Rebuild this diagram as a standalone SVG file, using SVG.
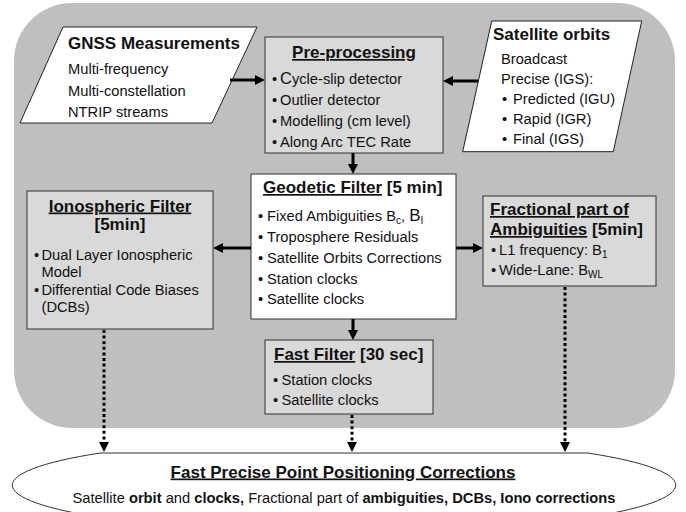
<svg xmlns="http://www.w3.org/2000/svg" width="686" height="512" viewBox="0 0 686 512">
<style>
text{font-family:"Liberation Sans",Arial,sans-serif;fill:#111}
.t{font-size:17px;font-weight:bold}
.b{font-size:14.7px}
.u{text-decoration:underline}
.box{fill:#d9d9d9;stroke:#333;stroke-width:1}
.wbox{fill:#fff;stroke:#333;stroke-width:1}
.ar{stroke:#000;stroke-width:3;fill:none;marker-end:url(#ah)}
.dt{stroke:#000;stroke-width:3;fill:none;stroke-dasharray:3 2.6;marker-end:url(#ah)}
</style>
<defs>
<marker id="ah" markerUnits="userSpaceOnUse" markerWidth="11" markerHeight="11" refX="1" refY="5" orient="auto">
<path d="M0,0 L10,5 L0,10 z" fill="#000"/>
</marker>
</defs>
<rect x="14" y="3" width="661" height="425" rx="58" fill="#bfbfbf"/>

<g id="gnss">
<polygon points="63,27 257,27 212,123 20,123" fill="#fff" stroke="#222" stroke-width="1"/>
<text class="t" x="68" y="49">GNSS Measurements</text>
<text class="b" x="68" y="74">Multi-frequency</text>
<text class="b" x="68" y="95.5">Multi-constellation</text>
<text class="b" x="68" y="117">NTRIP streams</text>
</g>

<g id="preprocessing">
<rect class="box" x="265" y="37" width="178" height="116"/>
<text class="t u" x="354" y="58" text-anchor="middle">Pre-processing</text>
<text class="b" x="272" y="84">•<tspan x="280" font-size="16.5">C</tspan>ycle-slip detector</text>
<text class="b" x="272" y="105">•<tspan x="280">Outlier detector</tspan></text>
<text class="b" x="272" y="126">•<tspan x="280">Modelling (cm level)</tspan></text>
<text class="b" x="272" y="147">•<tspan x="280">Along Arc TEC Rate</tspan></text>
</g>

<g id="orbits">
<polygon points="491.7,21 641.7,21 613.3,151.7 462.7,151.7" fill="#fff" stroke="#222" stroke-width="1"/>
<text class="t" x="493" y="40">Satellite orbits</text>
<text class="b" x="501" y="63.5">Broadcast</text>
<text class="b" x="501" y="83.5">Precise (IGS):</text>
<text class="b" x="502" y="103.5">•<tspan x="513">Predicted (IGU)</tspan></text>
<text class="b" x="502" y="123.5">•<tspan x="513">Rapid (IGR)</tspan></text>
<text class="b" x="502" y="144">•<tspan x="513">Final (IGS)</tspan></text>
</g>

<g id="geodetic">
<rect class="wbox" x="251" y="174" width="205" height="145"/>
<text class="t" x="263" y="193"><tspan class="u">Geodetic Filter</tspan> [5 min]</text>
<text class="b" x="258" y="221">•<tspan x="267">Fixed Ambiguities B</tspan><tspan font-size="10" dy="3">c</tspan><tspan dy="-3">, </tspan><tspan font-size="17">B</tspan><tspan font-size="10" dy="3">I</tspan></text>
<text class="b" x="258" y="242">•<tspan x="267">Troposphere Residuals</tspan></text>
<text class="b" x="258" y="263">•<tspan x="267">Satellite Orbits Corrections</tspan></text>
<text class="b" x="258" y="283.5">•<tspan x="267">Station clocks</tspan></text>
<text class="b" x="258" y="304">•<tspan x="267">Satellite clocks</tspan></text>
</g>

<g id="ionospheric">
<rect class="box" x="27" y="191" width="186" height="138"/>
<text class="t u" x="120" y="211.5" text-anchor="middle">Ionospheric Filter</text>
<text class="t" x="120" y="229.5" text-anchor="middle">[5min]</text>
<text class="b" x="34" y="260">•<tspan x="41.5">Dual Layer Ionospheric</tspan></text>
<text class="b" x="41.5" y="277">Model</text>
<text class="b" x="34" y="295">•<tspan x="41.5">Differential Code Biases</tspan></text>
<text class="b" x="41.5" y="312">(DCBs)</text>
</g>

<g id="fractional">
<rect class="box" x="483" y="196" width="173" height="90"/>
<text class="t u" x="490" y="215">Fractional part of</text>
<text class="t" x="490" y="235"><tspan class="u">Ambiguities</tspan> [5min]</text>
<text class="b" x="491" y="255">•<tspan x="499">L1 frequency: B</tspan><tspan font-size="10" dy="3">1</tspan></text>
<text class="b" x="491" y="275">•<tspan x="499">Wide-Lane: B</tspan><tspan font-size="10" dy="3">WL</tspan></text>
</g>

<g id="fast">
<rect class="box" x="265" y="340" width="168" height="74"/>
<text class="t" x="274" y="360"><tspan class="u">Fast Filter</tspan> [30 sec]</text>
<text class="b" x="273" y="384.5">•<tspan x="281.5">Station clocks</tspan></text>
<text class="b" x="273" y="405">•<tspan x="281.5">Satellite clocks</tspan></text>
</g>

<g id="connectors">
<line class="ar" x1="230" y1="80" x2="256" y2="80"/>
<line class="ar" x1="478" y1="81" x2="452" y2="81"/>
<line class="ar" x1="353" y1="153" x2="353" y2="165"/>
<line class="ar" x1="251" y1="248" x2="222" y2="248"/>
<line class="ar" x1="456" y1="248" x2="474" y2="248"/>
<line class="ar" x1="353" y1="319" x2="353" y2="331"/>
<line class="dt" x1="104" y1="330" x2="104" y2="443"/>
<line class="dt" x1="352" y1="415" x2="352" y2="443"/>
<line class="dt" x1="565" y1="287" x2="565" y2="443"/>
</g>

<g id="ppp">
<path d="M100.1,453 L587.9,453 A331.8 47.5 0 0 1 569.7,520 L118.3,520 A331.8 47.5 0 0 1 100.1,453 Z" fill="#fff" stroke="#333" stroke-width="1"/>
<text class="t u" x="343" y="477.5" text-anchor="middle">Fast Precise Point Positioning Corrections</text>
<text class="b" x="344" y="503" text-anchor="middle">Satellite <tspan font-weight="bold">orbit</tspan> and <tspan font-weight="bold">clocks,</tspan> Fractional part of <tspan font-weight="bold">ambiguities, DCBs, Iono corrections</tspan></text>
</g>
</svg>
